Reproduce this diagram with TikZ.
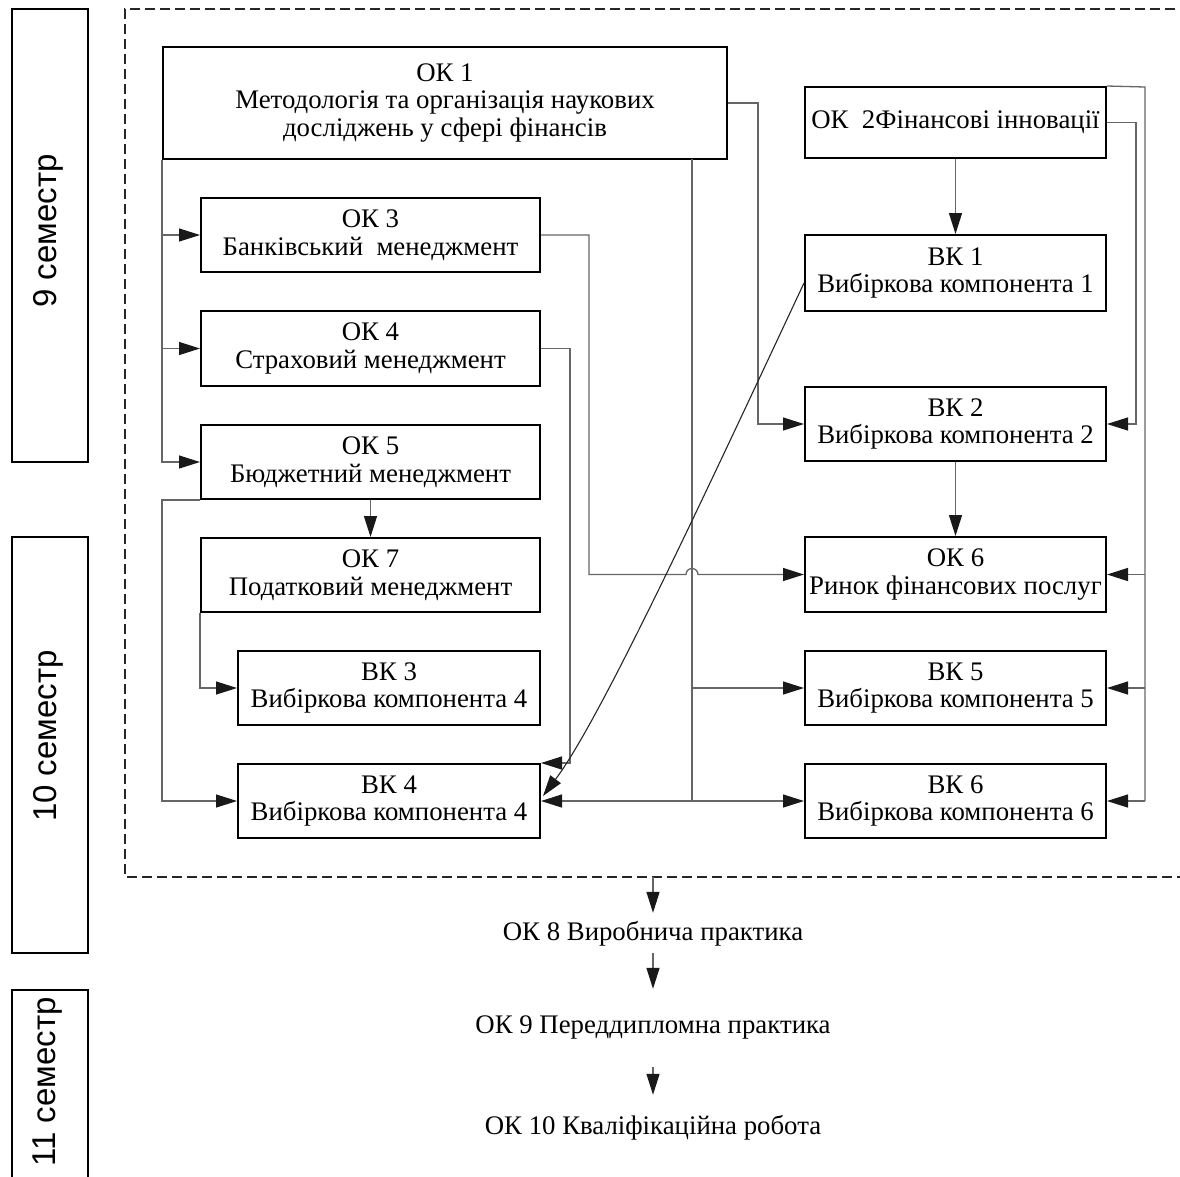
\documentclass[tikz,border=0pt]{standalone}
\usepackage{fontspec}
\setmainfont{Liberation Serif}
\newfontfamily\semfont{Liberation Sans}
\usetikzlibrary{arrows.meta,calc}
\begin{document}
\begin{tikzpicture}[x=1pt,y=-1pt,
  box/.style={draw, line width=2pt, inner sep=0pt, align=center, font=\fontsize{26.8}{27.5}\selectfont},
  sembox/.style={draw, line width=2pt, inner sep=0pt},
  semtext/.style={rotate=90, inner sep=0pt, font=\semfont\fontsize{33}{34}\selectfont},
  conn/.style={line width=1.3pt, draw=black!60},
  arr/.style={conn, -{Triangle[length=21pt,width=13pt,color=black!90]}},
  dbl/.style={conn, {Triangle[length=21pt,width=13pt,color=black!90]}-{Triangle[length=21pt,width=13pt,color=black!90]}},
  lbl/.style={inner sep=0pt, text height=18pt, text depth=6pt, font=\fontsize{26.8}{27}\selectfont},
  frame/.style={line width=1.1pt, draw=black!85, dash pattern=on 10pt off 5pt}
]
\useasboundingbox (0,0) rectangle (1180,1176);

% semester boxes
\node[sembox, minimum width=76, minimum height=453] (s9) at (50,235.5) {};
\node[semtext] (s9t) at (48,231) {9 семестр};
\node[sembox, minimum width=76, minimum height=416] (s10) at (50,745) {};
\node[semtext] (s10t) at (48,736) {10 семестр};
\node[sembox, minimum width=76, minimum height=220] (s11) at (50,1100) {};
\node[semtext] (s11t) at (48,1082) {11 семестр};

% dashed frame
\draw[frame] (1190,9) -- (125,9) -- (125,877) -- (1190,877);

% boxes
\node[box, minimum width=564, minimum height=112] (ok1) at (445,103) {ОК 1\\Методологія та організація наукових\\досліджень у сфері фінансів};
\node[box, minimum width=301, minimum height=71] (ok2) at (955.5,122.5) {ОК\ \ 2Фінансові інновації};
\node[box, minimum width=339, minimum height=74] (ok3) at (370.5,235) {ОК 3\\Банківський\ \ менеджмент};
\node[box, minimum width=339, minimum height=75] (ok4) at (370.5,348.5) {ОК 4\\Страховий менеджмент};
\node[box, minimum width=339, minimum height=74] (ok5) at (370.5,462) {ОК 5\\Бюджетний менеджмент};
\node[box, minimum width=339, minimum height=74] (ok7) at (370.5,575) {ОК 7\\Податковий менеджмент};
\node[box, minimum width=302, minimum height=74] (vk3) at (389,688) {ВК 3\\Вибіркова компонента 4};
\node[box, minimum width=302, minimum height=74] (vk4) at (389,801) {ВК 4\\Вибіркова компонента 4};
\node[box, minimum width=301, minimum height=76] (vk1) at (955.5,273) {ВК 1\\Вибіркова компонента 1};
\node[box, minimum width=301, minimum height=74] (vk2) at (955.5,424) {ВК 2\\Вибіркова компонента 2};
\node[box, minimum width=301, minimum height=75] (ok6) at (955.5,574.5) {ОК 6\\Ринок фінансових послуг};
\node[box, minimum width=301, minimum height=74] (vk5) at (955.5,688) {ВК 5\\Вибіркова компонента 5};
\node[box, minimum width=301, minimum height=74] (vk6) at (955.5,801) {ВК 6\\Вибіркова компонента 6};

% trunk coordinates
\coordinate (t1) at (692,159);
\coordinate (t2) at (1145,87);

% left trunk from OK1
\draw[arr] (ok1.south west) |- (ok3.west);
\draw[arr] (ok1.south west) |- (ok4.west);
\draw[arr] (ok1.south west) |- (ok5.west);

% OK1 right to VK2
\draw[arr] (ok1.east) -- ++(30,0) |- (vk2.west);

% OK1 bottom trunk
\draw[conn] (t1) -- (t1 |- vk6.west);
\draw[arr] (t1 |- vk5.west) -- (vk5.west);
\draw[dbl] (vk4.east) -- (vk6.west);

% OK3 to OK6 with jump
\draw[arr] (ok3.east) -- ++(48,0) |- ($(t1 |- ok6.west)+(-6,0)$) arc[start angle=180, end angle=0, radius=6pt] -- (ok6.west);

% OK4 to VK4
\draw[arr] (ok4.east) -- ++(29,0) |- (vk4.north east);

% OK2 connections
\draw[arr] (ok2.south) -- (vk1.north);
\draw[arr] (ok2.east) -- ++(29,0) |- (vk2.east);
\draw[conn] (ok2.north east) -- (t2) -- (t2 |- vk6.east);
\draw[arr] (t2 |- ok6.east) -- (ok6.east);
\draw[arr] (t2 |- vk5.east) -- (vk5.east);
\draw[arr] (t2 |- vk6.east) -- (vk6.east);

% VK2 to OK6
\draw[arr] (vk2.south) -- (ok6.north);

% VK1 curve to VK4
\draw[arr, draw=black!85, line width=1.1pt] ($(vk1.west)+(0,10)$) .. controls (700,505) and (600,720) .. ($(vk4.east)+(2,-5)$);

% OK5 connections
\draw[arr] (ok5.south) -- (ok7.north);
\draw[arr] (ok5.south west) -- (ok1.south west |- ok5.south west) |- (vk4.west);

% OK7 to VK3
\draw[arr] (ok7.south west) |- (vk3.west);

% bottom chain
\coordinate (d1) at (653,877);
\node[lbl] (ok8) at (653,934) {ОК 8 Виробнича практика};
\node[lbl] (ok9) at (653,1027) {ОК 9 Переддипломна практика};
\node[lbl] (ok10) at (653,1128) {ОК 10 Кваліфікаційна робота};
\draw[arr, shorten >=9pt] (d1) -- (ok8.north);
\draw[arr, shorten <=7pt, shorten >=26pt] (ok8.south) -- (ok9.north);
\draw[arr, shorten <=28pt, shorten >=21pt] (ok9.south) -- (ok10.north);
\end{tikzpicture}
\end{document}
